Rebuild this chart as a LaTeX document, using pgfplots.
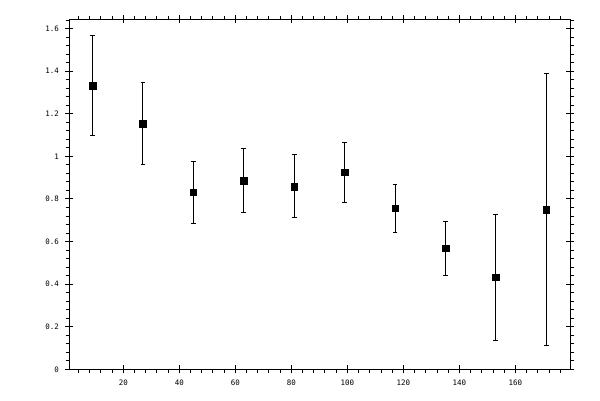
\documentclass[border=0pt]{standalone}
\usepackage{pgfplots}
\pgfplotsset{compat=1.18}
\usepackage{fontspec}
\setmonofont{DejaVu Sans Mono}
\begin{document}
\begin{tikzpicture}[x=1bp,y=1bp]
\useasboundingbox (0,0) rectangle (600,400);
\pgfplotsset{common/.style={scale only axis, width=501bp, height=350bp,
  at={(69.3bp,30.7bp)}, anchor=south west,
  xmin=0.7, xmax=179.6, ymin=0, ymax=1.644,
  axis line style={line width=1bp, black}}}
\begin{axis}[common, xtick={20,40,...,160}, ytick={0,0.2,0.4,0.6,0.8,1,1.2,1.4,1.6},
  xticklabels={}, yticklabels={}, major tick length=0pt,
  minor xtick={4,8,...,176}, minor ytick={0.04,0.08,...,1.64},
  tick align=outside, minor tick length=3.5bp,
  minor tick style={line width=1bp, black}]
\end{axis}
\begin{axis}[common, xtick={20,40,...,160}, ytick={0,0.2,0.4,0.6,0.8,1,1.2,1.4,1.6},
  tick align=center, major tick length=8bp,
  major tick style={line width=1bp, black},
  /pgf/number format/assume math mode=true,
  ticklabel style={font=\ttfamily\fontsize{7.5}{7.5}\selectfont},
  xticklabel style={yshift=-3bp},
  yticklabel style={xshift=-3bp}]
\addplot[only marks, mark=square*, mark size=3.3bp, black,
  error bars/.cd, y dir=both, y explicit,
  error bar style={line width=1bp, black},
  error mark options={rotate=90, mark size=2.4bp, line width=1bp, black}]
coordinates {
(9,1.333) +- (0,0.233)
(27,1.155) +- (0,0.192)
(45,0.831) +- (0,0.146)
(63,0.887) +- (0,0.150)
(81,0.859) +- (0,0.148)
(99,0.925) +- (0,0.141)
(117,0.756) +- (0,0.113)
(135,0.568) +- (0,0.126)
(153,0.432) +- (0,0.297)
(171,0.751) +- (0,0.639)
};
\end{axis}
\end{tikzpicture}
\end{document}
